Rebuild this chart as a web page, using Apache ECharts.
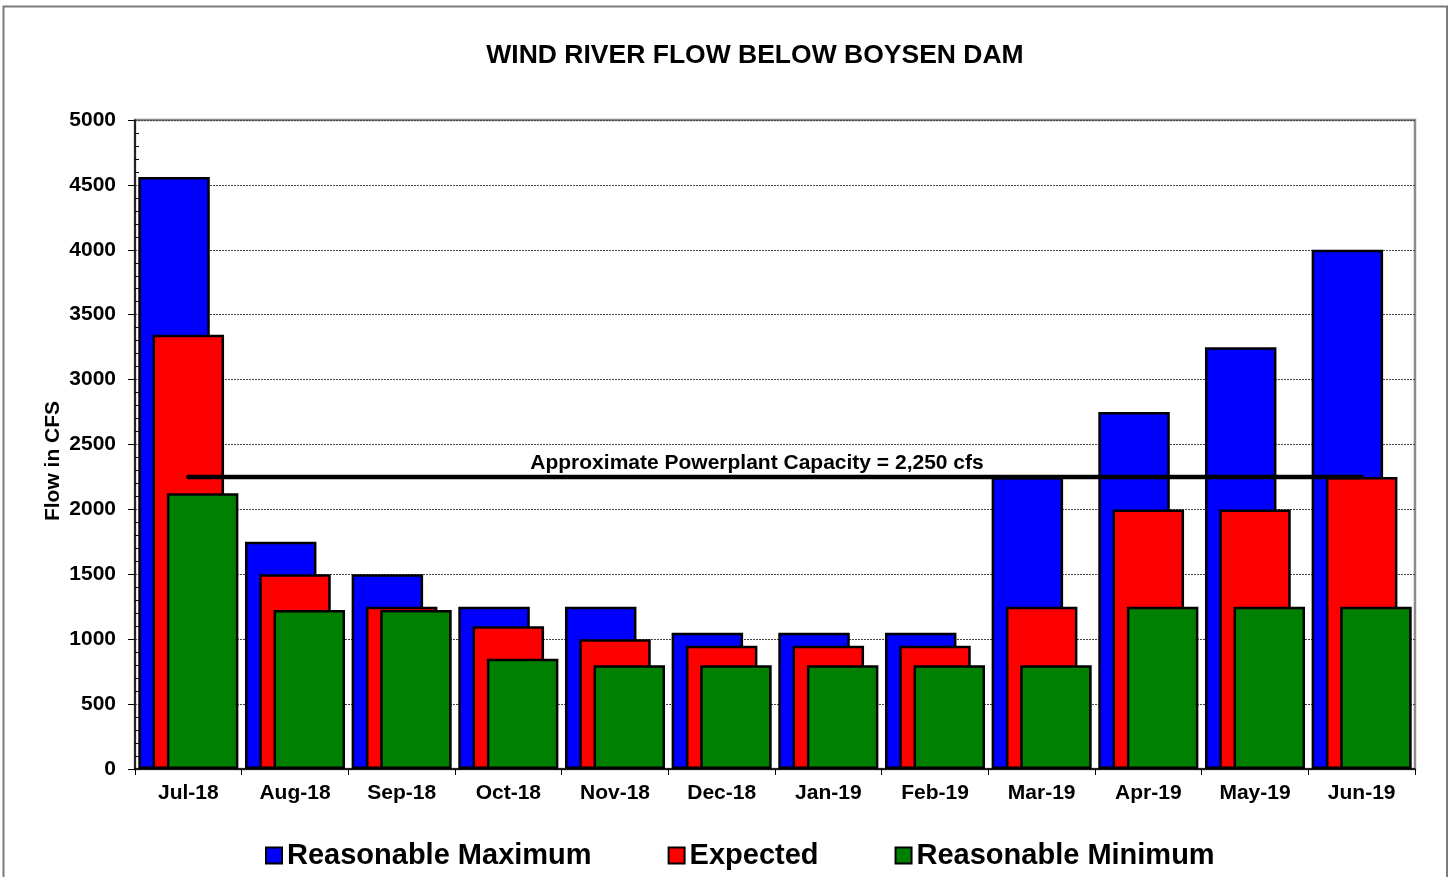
<!DOCTYPE html>
<html>
<head>
<meta charset="utf-8">
<title>Wind River Flow Below Boysen Dam</title>
<script src="https://cdn.jsdelivr.net/npm/echarts@6/dist/echarts.min.js"></script>
<style>
  html, body { margin: 0; padding: 0; background: #ffffff; }
  #chart { width: 1453px; height: 877px; }
</style>
</head>
<body>
<div id="chart"></div>
<script>
// Monthly flow outlook, cfs
const months = ['Jul-18', 'Aug-18', 'Sep-18', 'Oct-18', 'Nov-18', 'Dec-18',
                'Jan-19', 'Feb-19', 'Mar-19', 'Apr-19', 'May-19', 'Jun-19'];
const reasonableMaximum = [4560, 1750, 1500, 1250, 1250, 1050, 1050, 1050, 2250, 2750, 3250, 4000];
const expected          = [3345, 1500, 1250, 1100, 1000,  950,  950,  950, 1250, 2000, 2000, 2250];
const reasonableMinimum = [2125, 1225, 1225,  850,  800,  800,  800,  800,  800, 1250, 1250, 1250];
const powerplantCapacity = 2250;
const capacityLabel = 'Approximate Powerplant Capacity = 2,250 cfs';
const yMin = 0, yMax = 5000, yStep = 500;

const FONT = '"Liberation Sans", Arial, Helvetica, sans-serif';

const chart = echarts.init(document.getElementById('chart'), null, { renderer: 'canvas' });

function barSeries(name, data, color) {
  return {
    name: name,
    type: 'bar',
    data: data,
    barWidth: '67%',
    barGap: '-80%',
    itemStyle: { color: color, borderColor: '#000000', borderWidth: 2.5 },
    emphasis: { disabled: true },
    animation: false
  };
}

// Powerplant capacity reference line across all months, with its caption
const capacitySeries = {
  name: 'Powerplant Capacity',
  type: 'line',
  data: months.map(() => powerplantCapacity),
  showSymbol: false,
  symbol: 'none',
  silent: true,
  animation: false,
  lineStyle: { color: '#000000', width: 4.5, cap: 'round' },
  emphasis: { disabled: true },
  markLine: {
    silent: true,
    symbol: ['none', 'none'],
    animation: false,
    lineStyle: { color: 'rgba(0,0,0,0)', width: 0 },
    label: {
      show: true,
      position: 'insideMiddleTop',
      distance: 3,
      padding: [0, 36, 0, 0],
      formatter: capacityLabel,
      color: '#000000',
      opacity: 1,
      fontFamily: FONT,
      fontWeight: 'bold',
      fontSize: 21
    },
    data: [[
      { coord: [months[0], powerplantCapacity] },
      { coord: [months[months.length - 1], powerplantCapacity] }
    ]]
  }
};

const option = {
  backgroundColor: '#ffffff',
  animation: false,
  title: {
    text: 'WIND RIVER FLOW BELOW BOYSEN DAM',
    left: 750,
    top: 37,
    textAlign: 'center',
    textStyle: { fontFamily: FONT, fontWeight: 'bold', fontSize: 26.5, color: '#000000' }
  },
  legend: {
    left: 265,
    top: 841,
    padding: 0,
    icon: 'rect',
    itemWidth: 16,
    itemHeight: 16,
    itemGap: 76,
    selectedMode: false,
    itemStyle: { borderColor: '#000000', borderWidth: 2 },
    textStyle: { fontFamily: FONT, fontWeight: 'bold', fontSize: 29, color: '#000000' },
    data: ['Reasonable Maximum', 'Expected', 'Reasonable Minimum']
  },
  grid: {
    left: 135,
    right: 38,
    top: 120,
    bottom: 108,
    show: true,
    borderColor: '#8c8c8c',
    borderWidth: 2.5,
    backgroundColor: 'transparent',
    containLabel: false
  },
  xAxis: {
    type: 'category',
    data: months,
    boundaryGap: true,
    axisLine: { show: true, lineStyle: { color: '#000000', width: 1.5 } },
    axisTick: { show: true, length: 6, lineStyle: { color: '#000000', width: 1 } },
    axisLabel: { margin: 14, fontFamily: FONT, fontWeight: 'bold', fontSize: 21, color: '#000000' },
    splitLine: { show: false }
  },
  yAxis: [
    {
      type: 'value',
      min: yMin,
      max: yMax,
      interval: yStep,
      axisLine: { show: true, lineStyle: { color: '#000000', width: 1.5 } },
      axisTick: { show: true, length: 7, lineStyle: { color: '#000000', width: 1 } },
      axisLabel: {
        margin: 19,
        formatter: (v) => String(v),
        fontFamily: FONT, fontWeight: 'bold', fontSize: 21, color: '#000000'
      },
      splitLine: { show: true, lineStyle: { color: '#444444', width: 1, type: [2, 1] } }
    },
    {
      // minor tick marks drawn inside the plot along the left axis
      type: 'value',
      position: 'left',
      min: yMin,
      max: yMax,
      interval: yStep,
      axisLine: { show: false },
      axisLabel: { show: false },
      axisTick: { show: false, inside: true },
      minorTick: { show: true, splitNumber: 5, length: 4, lineStyle: { color: '#000000', width: 1 } },
      splitLine: { show: false }
    }
  ],
  graphic: [
    {
      type: 'rect',
      silent: true,
      shape: { x: 3.5, y: 6.5, width: 1443.5, height: 900 },
      style: { fill: 'none', stroke: '#7a7a7a', lineWidth: 2 }
    },
    {
      type: 'text',
      silent: true,
      x: 53,
      y: 461,
      rotation: Math.PI / 2,
      style: {
        text: 'Flow in CFS',
        fontFamily: FONT,
        fontWeight: 'bold',
        fontSize: 21,
        fill: '#000000',
        align: 'center',
        verticalAlign: 'middle'
      }
    }
  ],
  series: [
    barSeries('Reasonable Maximum', reasonableMaximum, '#0000ff'),
    barSeries('Expected', expected, '#ff0000'),
    barSeries('Reasonable Minimum', reasonableMinimum, '#008000'),
    capacitySeries
  ]
};

chart.setOption(option);
</script>
</body>
</html>
